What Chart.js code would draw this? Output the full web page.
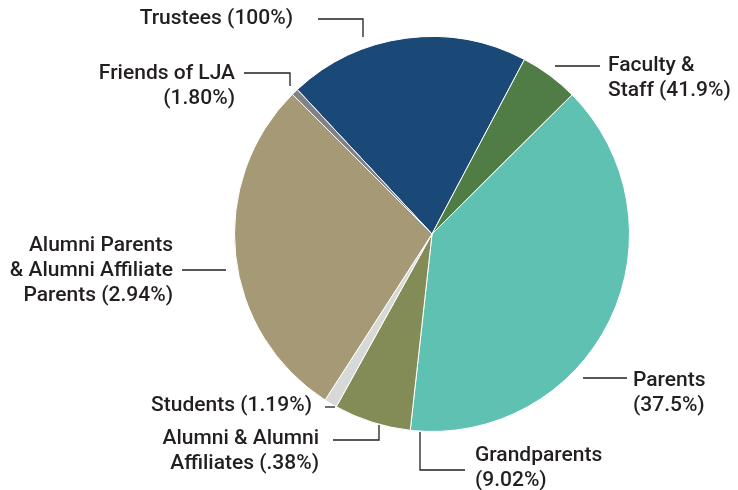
<!DOCTYPE html>
<html>
<head>
<meta charset="utf-8">
<script src="https://cdn.jsdelivr.net/npm/chart.js@4.4.1/dist/chart.umd.min.js"></script>
<style>
  html, body { margin: 0; padding: 0; background: #fff; }
  #wrap { width: 738px; height: 490px; }
</style>
</head>
<body>
<div id="wrap"><canvas id="donorsChart" width="738" height="490"></canvas></div>
<script>
// slices, clockwise from the upper-left edge of Trustees
const sliceNames = ['Trustees', 'Faculty & Staff', 'Parents', 'Alumni & Alumni Affiliates', 'Students', 'Alumni Parents & Alumni Affiliate Parents', 'Friends of LJA'];
const sliceShares = [19.7, 4.8, 39.2, 6.3, 1.05, 28.4, 0.55];
const sliceColors = ['#1a4877', '#507c46', '#5fc1b2', '#838b57', '#d6d9d6', '#a69976', '#808285'];

// participation labels
const labelNames = ['Trustees', 'Friends of LJA', 'Faculty & Staff', 'Alumni Parents & Alumni Affiliate Parents', 'Parents', 'Students', 'Alumni & Alumni Affiliates', 'Grandparents'];
const labelRates = ['100%', '1.80%', '41.9%', '2.94%', '37.5%', '1.19%', '.38%', '9.02%'];

// where each label sits (text lines, anchor, leader line)
const labelLayout = [
  { lines: ['Trustees (100%)'], x: 293, y: 19, align: 'right', leader: [[318, 19], [363, 19], [363, 37]] },
  { lines: ['Friends of LJA', '(1.80%)'], x: 235, y: 74, align: 'right', leader: [[244, 73], [290, 73], [290, 86]] },
  { lines: ['Faculty &', 'Staff (41.9%)'], x: 608, y: 66, align: 'left', leader: [[555, 66], [600, 66]] },
  { lines: ['Alumni Parents', '& Alumni Affiliate', 'Parents (2.94%)'], x: 173, y: 246, align: 'right', leader: [[182, 270], [226, 270]] },
  { lines: ['Parents', '(37.5%)'], x: 633, y: 381, align: 'left', leader: [[583, 378], [627, 378]] },
  { lines: ['Students (1.19%)'], x: 312, y: 406, align: 'right', leader: [[325, 407], [335, 407]] },
  { lines: ['Alumni & Alumni', 'Affiliates (.38%)'], x: 319, y: 439, align: 'right', leader: [[333, 440], [379, 440], [379, 425]] },
  { lines: ['Grandparents', '(9.02%)'], x: 475, y: 456, align: 'left', leader: [[420, 432], [420, 470], [465, 470]] }
];

const calloutPlugin = {
    id: 'callouts',
    afterDraw(chart) {
        const ctx = chart.ctx;
        ctx.save();
        ctx.font = '500 21px Roboto, "Noto Sans", sans-serif';
        ctx.fillStyle = '#231f20';
        ctx.strokeStyle = '#231f20';
        ctx.lineWidth = 1.3;
        ctx.textBaseline = 'middle';
        labelLayout.forEach(l => {
            ctx.textAlign = l.align;
            l.lines.forEach((t, i) => ctx.fillText(t, l.x, l.y + i * 25));
            ctx.beginPath();
            l.leader.forEach((p, i) => i ? ctx.lineTo(p[0], p[1]) : ctx.moveTo(p[0], p[1]));
            ctx.stroke();
        });
        ctx.restore();
    }
};

document.addEventListener('DOMContentLoaded', () => {
    const ctxPie = document.getElementById('donorsChart').getContext('2d');
    new Chart(ctxPie, {
        type: 'pie',
        data: {
            labels: sliceNames,
            datasets: [{
                data: sliceShares,
                backgroundColor: sliceColors,
                borderColor: '#ffffff',
                borderWidth: 1
            }]
        },
        options: {
            responsive: false,
            animation: false,
            rotation: -43,
            layout: { padding: { left: 234, right: 108, top: 36, bottom: 58 } },
            plugins: {
                legend: { display: false },
                tooltip: { enabled: false }
            }
        },
        plugins: [calloutPlugin]
    });
});
</script>
</body>
</html>
